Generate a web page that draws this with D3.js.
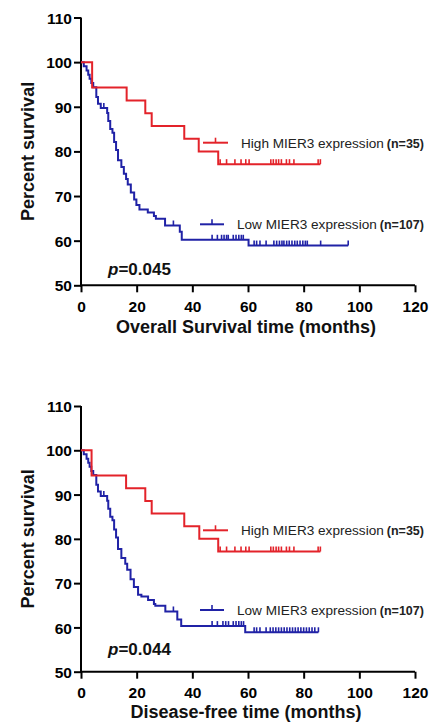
<!DOCTYPE html>
<html><head><meta charset="utf-8">
<script src="https://cdn.jsdelivr.net/npm/d3@7"></script>
<style>
html,body{margin:0;padding:0;background:#fff;}
svg{display:block;font-family:"Liberation Sans",Arial,sans-serif;}
</style></head>
<body><svg id="c" width="441" height="724"></svg>
<script>
// ---- data ----
const xTicks = [0, 20, 40, 60, 80, 100, 120];
const yTicks = [50, 60, 70, 80, 90, 100, 110];

// Overall survival
const osHighTimes = [0, 4, 16.4, 23.1, 25.4, 37.1, 42.3, 49.3];
const osHighSurv  = [100, 94.29, 91.43, 88.57, 85.71, 82.86, 80.0, 77.14];
const osHighCensor = [50, 52.3, 55.3, 57.5, 59.2, 60.4, 68.2, 69.1, 70.1, 71, 72, 73.8, 74.9, 76.5, 85.2, 86];
const osHighEnd = 86;
const osLowTimes = [0, 1, 2, 2.6, 3.1, 3.7, 4.4, 5.5, 6.1, 7.1, 9.4, 9.8, 10.5, 11.3, 11.9, 12.6, 13.3, 14.5, 15.4, 16.2, 16.8, 17.9, 19.1, 19.9, 21.0, 24.0, 26.2, 26.9, 30.2, 35.5, 36.2, 60.2];
const osLowSurv  = [100, 99.1, 98.1, 97.2, 96.3, 95.3, 94.4, 92.2, 90.7, 89.7, 88.6, 86.8, 85.0, 84.2, 82.1, 80.3, 78.0, 76.5, 75.0, 73.8, 72.6, 70.8, 69.2, 68.0, 67.0, 66.3, 65.5, 64.9, 63.4, 62.0, 60.2, 58.9];
const osLowCensor = [8.2, 33.2, 47.1, 49, 50.5, 51.4, 52.3, 52.9, 54.7, 55.7, 56.7, 57.6, 58.3, 62.2, 63.1, 64.3, 66.5, 69.3, 70.3, 71.3, 72.2, 72.9, 73.9, 74.8, 75.8, 76.8, 77.7, 78.7, 79.7, 80.6, 81.3, 86.1, 96];
const osLowEnd = 96;

// Disease-free survival
const dfsHighTimes = [0, 3.8, 16.2, 23.1, 25.4, 37.1, 42.5, 49.3];
const dfsHighSurv  = [100, 94.29, 91.43, 88.57, 85.71, 82.86, 80.0, 77.14];
const dfsHighCensor = [50, 52.3, 55.3, 57.5, 59.2, 60.4, 68.2, 69.1, 70.1, 71, 72, 73.8, 74.9, 76.5, 85.2, 86];
const dfsHighEnd = 86;
const dfsLowTimes = [0, 1, 2, 2.6, 3.1, 3.7, 4.4, 5.5, 6.1, 7.1, 9.4, 9.8, 10.5, 11.3, 11.9, 12.6, 13.3, 14.5, 15.9, 16.6, 17.8, 19.0, 20.5, 21.7, 24.1, 26.2, 26.7, 30.3, 34.6, 36.0, 59.0];
const dfsLowSurv  = [100, 99.1, 98.1, 97.2, 96.3, 95.3, 94.4, 92.2, 90.7, 89.7, 88.6, 86.8, 85.0, 84.2, 82.1, 80.3, 77.7, 75.7, 74.4, 73.0, 70.9, 69.1, 67.4, 67.0, 66.2, 65.3, 64.9, 63.6, 61.8, 60.3, 58.9];
const dfsLowCensor = [8.2, 33.2, 47.1, 49, 51, 52, 53, 54.7, 55.7, 56.7, 57.6, 58.4, 62.2, 63.1, 64.3, 66.5, 68, 69, 70, 71, 72, 73, 74, 75, 76, 77, 78, 79, 80, 81, 82, 83, 84, 85.3];
const dfsLowEnd = 85.3;

const labelHigh = "High MIER3 expression";
const labelLow = "Low MIER3 expression";
const nHigh = "(n=35)";
const nLow = "(n=107)";

const RED = "#e3232a";
const BLUE = "#2022a6";

const svg = d3.select("#c");

function panel(cfg) {
  const x = d3.scaleLinear().domain([0, 120]).range([81, 415]);
  const y = d3.scaleLinear().domain([50, 110]).range([cfg.y0, cfg.y1]);
  const g = svg.append("g");

  const yAx = g.append("g").attr("transform", "translate(81,0)")
    .call(d3.axisLeft(y).tickValues(yTicks).tickSize(7).tickSizeOuter(0).tickPadding(2));
  const xAx = g.append("g").attr("transform", `translate(0,${cfg.y0})`)
    .call(d3.axisBottom(x).tickValues(xTicks).tickSize(7).tickSizeOuter(0).tickPadding(5));
  [yAx, xAx].forEach(a => {
    a.selectAll("path,line").attr("stroke", "#000").attr("stroke-width", 2);
    a.selectAll("text").attr("fill", "#000").attr("font-size", 15.5).attr("font-weight", "bold")
      .attr("font-family", '"Liberation Sans",Arial,sans-serif');
  });
  yAx.select(".domain").attr("d", `M0,${cfg.y0 + 1}V${cfg.y1}`);
  xAx.select(".domain").attr("d", `M${80}, 0H${415}`);
  xAx.selectAll("text").attr("dy", "0.95em");
  yAx.selectAll("text").attr("dy", "0.36em");

  const line = d3.line().x(d => x(d[0])).y(d => y(d[1])).curve(d3.curveStepAfter);

  function drawSeries(times, surv, censor, end, color) {
    const pts = times.map((t, i) => [t, surv[i]]);
    pts.push([end, surv[surv.length - 1]]);
    g.append("path").attr("d", line(pts)).attr("fill", "none")
      .attr("stroke", color).attr("stroke-width", 2);
    const valAt = t => surv[Math.max(0, d3.bisectRight(times, t) - 1)];
    g.selectAll(null).data(censor).enter().append("line")
      .attr("x1", d => x(d)).attr("x2", d => x(d))
      .attr("y1", d => y(valAt(d))).attr("y2", d => y(valAt(d)) - 5)
      .attr("stroke", color).attr("stroke-width", 1.6);
  }
  drawSeries(cfg.lowT, cfg.lowS, cfg.lowC, cfg.lowE, BLUE);
  drawSeries(cfg.highT, cfg.highS, cfg.highC, cfg.highE, RED);

  // legend
  function legend(ly, x0, x1, tx, color, label, n) {
    g.append("line").attr("x1", x0).attr("x2", x1).attr("y1", ly).attr("y2", ly)
      .attr("stroke", color).attr("stroke-width", 2);
    const mid = (x0 + x1) / 2;
    g.append("line").attr("x1", mid).attr("x2", mid).attr("y1", ly).attr("y2", ly - 5)
      .attr("stroke", color).attr("stroke-width", 1.6);
    const t = g.append("text").attr("x", tx).attr("y", ly + 5).attr("fill", "#222")
      .attr("font-size", 13.6);
    t.append("tspan").text(label);
    t.append("tspan").attr("dx", 3).attr("font-size", 12.5).attr("font-weight", "bold").text(n);
  }
  legend(cfg.legHighY, 203, 228, 241, RED, labelHigh, nHigh);
  legend(cfg.legLowY, 200, 224, 237, BLUE, labelLow, nLow);

  // p value
  const p = g.append("text").attr("x", 108).attr("y", cfg.pY).attr("font-size", 17)
    .attr("font-weight", "bold").attr("fill", "#111");
  p.append("tspan").attr("font-style", "italic").text("p");
  p.append("tspan").text(cfg.pText);

  // axis titles
  g.append("text").attr("x", 246).attr("y", cfg.xTitleY).attr("text-anchor", "middle")
    .attr("font-size", 18).attr("font-weight", "bold").attr("fill", "#111").text(cfg.xTitle);
  const cy = (cfg.y0 + cfg.y1) / 2;
  g.append("text").attr("transform", `translate(34,${cy}) rotate(-90)`).attr("text-anchor", "middle")
    .attr("font-size", 18).attr("font-weight", "bold").attr("fill", "#111").text("Percent survival");
}

panel({
  y0: 285.3, y1: 17.5,
  highT: osHighTimes, highS: osHighSurv, highC: osHighCensor, highE: osHighEnd,
  lowT: osLowTimes, lowS: osLowSurv, lowC: osLowCensor, lowE: osLowEnd,
  legHighY: 142.7, legLowY: 224.3, pY: 275, pText: "=0.045",
  xTitle: "Overall Survival time (months)", xTitleY: 333
});
panel({
  y0: 671.7, y1: 406,
  highT: dfsHighTimes, highS: dfsHighSurv, highC: dfsHighCensor, highE: dfsHighEnd,
  lowT: dfsLowTimes, lowS: dfsLowSurv, lowC: dfsLowCensor, lowE: dfsLowEnd,
  legHighY: 530.3, legLowY: 610, pY: 655, pText: "=0.044",
  xTitle: "Disease-free time (months)", xTitleY: 718
});
</script>
</body></html>
